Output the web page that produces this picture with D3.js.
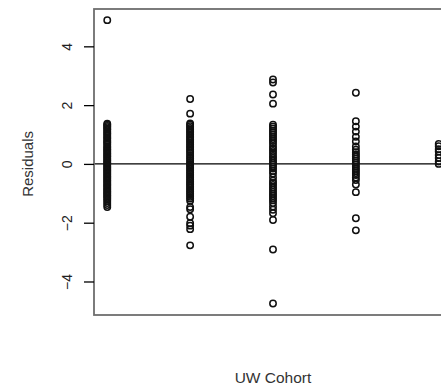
<!DOCTYPE html>
<html>
<head>
<meta charset="utf-8">
<script src="https://cdn.jsdelivr.net/npm/d3@7"></script>
<style>
  body { margin: 0; background: #fff; }
  svg { display: block; font-family: "Liberation Sans", Arial, sans-serif; }
</style>
</head>
<body>
<script>
// residuals per UW cohort
var cohort1 = [4.89, 1.37, 1.33, 1.29, 1.25, 1.2, 1.16, 1.1, 1.05, 1.01, 0.95, 0.9, 0.86, 0.8, 0.75, 0.71, 0.66,
  0.6, 0.56, 0.51, 0.47, 0.42, 0.37, 0.33, 0.28, 0.24, 0.19, 0.14, 0.1, 0.05, 0.01, -0.04, -0.09, -0.13, -0.18,
  -0.22, -0.27, -0.32, -0.36, -0.41, -0.45, -0.5, -0.55, -0.59, -0.64, -0.69, -0.73, -0.78, -0.83, -0.87, -0.92,
  -0.96, -1.01, -1.06, -1.1, -1.15, -1.2, -1.26, -1.33, -1.4, -1.47];
var cohort2 = [2.21, 1.71, 1.38, 1.33, 1.28, 1.22, 1.17, 1.11, 1.06, 1.0, 0.94, 0.89, 0.83, 0.78, 0.72, 0.66, 0.6,
  0.55, 0.49, 0.43, 0.37, 0.3, 0.24, 0.18, 0.12, 0.06, 0.0, -0.05, -0.11, -0.17, -0.23, -0.29, -0.35, -0.41,
  -0.47, -0.53, -0.59, -0.65, -0.7, -0.76, -0.82, -0.88, -0.94, -1.0, -1.06, -1.12, -1.18, -1.25, -1.47, -1.54,
  -1.8, -2.02, -2.1, -2.22, -2.77];
var cohort3 = [2.87, 2.77, 2.36, 2.05, 1.33, 1.27, 1.2, 1.13, 1.06, 0.99, 0.92, 0.85, 0.78, 0.7, 0.6, 0.52, 0.44,
  0.36, 0.27, 0.2, 0.12, 0.05, -0.02, -0.09, -0.16, -0.24, -0.33, -0.45, -0.57, -0.65, -0.72, -0.8, -0.87, -0.95,
  -1.02, -1.09, -1.17, -1.24, -1.33, -1.45, -1.56, -1.68, -1.91, -2.91, -4.75];
var cohort4 = [2.42, 1.45, 1.27, 1.1, 0.92, 0.76, 0.59, 0.48, 0.4, 0.32, 0.25, 0.18, 0.11, 0.04, -0.03, -0.1,
  -0.17, -0.24, -0.31, -0.38, -0.46, -0.55, -0.7, -0.96, -1.85, -2.26];
var cohort5 = [0.68, 0.6, 0.5, 0.42, 0.3, 0.2, 0.08, 0.0];

var cohorts = [cohort1, cohort2, cohort3, cohort4, cohort5];
var yTicks = [-4, -2, 0, 2, 4];

var width = 441, height = 387;
var box = {left: 94, top: 9, right: 452, bottom: 315};

var svg = d3.select("body").append("svg")
    .attr("width", width)
    .attr("height", height);

var x = d3.scaleLinear().domain([0.84, 5.16]).range([box.left, box.right]);
var y = d3.scaleLinear().domain([-5.14, 5.27]).range([box.bottom, box.top]);

var points = [];
cohorts.forEach(function(vals, i) {
  vals.forEach(function(v) { points.push([i + 1, v]); });
});

// zero reference line
svg.append("line")
    .attr("x1", box.left).attr("x2", box.right)
    .attr("y1", y(0)).attr("y2", y(0))
    .attr("stroke", "#000")
    .attr("stroke-width", 1.3);

svg.selectAll("circle")
    .data(points)
    .enter()
    .append("circle")
    .attr("cx", function(d) { return x(d[0]); })
    .attr("cy", function(d) { return y(d[1]); })
    .attr("r", 3.2)
    .attr("fill", "none")
    .attr("stroke", "#111")
    .attr("stroke-width", 1.5);

// plot frame
svg.append("rect")
    .attr("x", box.left).attr("y", box.top)
    .attr("width", box.right - box.left)
    .attr("height", box.bottom - box.top)
    .attr("fill", "none")
    .attr("stroke", "#6e6e6e")
    .attr("stroke-width", 1.8);

var yAxis = svg.append("g")
    .attr("transform", "translate(" + box.left + ",0)")
    .call(d3.axisLeft(y).tickValues(yTicks).tickSize(10).tickFormat(d3.format("d")));

yAxis.select(".domain").remove();
yAxis.selectAll(".tick line").attr("stroke", "#000").attr("stroke-width", 1.3);
yAxis.selectAll(".tick text")
    .attr("x", 0)
    .attr("dy", "0.36em")
    .attr("text-anchor", "middle")
    .attr("transform", "translate(-27,0) rotate(-90)")
    .attr("fill", "#222")
    .style("font-size", "14px")
    .text(function(d) { return d < 0 ? "\u2212" + Math.abs(d) : d; });

svg.append("text")
    .attr("transform", "translate(33," + y(0) + ") rotate(-90)")
    .attr("text-anchor", "middle")
    .attr("fill", "#333")
    .style("font-size", "15px")
    .text("Residuals");

svg.append("text")
    .attr("x", (box.left + box.right) / 2)
    .attr("y", 383)
    .attr("text-anchor", "middle")
    .attr("fill", "#333")
    .style("font-size", "15.5px")
    .text("UW Cohort");
</script>
</body>
</html>
